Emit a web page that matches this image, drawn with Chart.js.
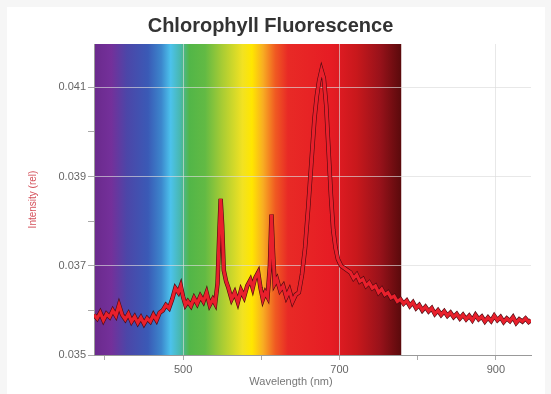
<!DOCTYPE html>
<html>
<head>
<meta charset="utf-8">
<script src="https://cdn.jsdelivr.net/npm/chart.js@4"></script>
<style>
  html, body { margin: 0; padding: 0; background: #fff; }
  canvas { display: block; }
</style>
</head>
<body>
<canvas id="chart" width="551" height="394"></canvas>
<script>
// wavelength (nm)
const wavelength = [
  386, 390, 394, 398, 402, 406, 410, 414, 418, 422, 426, 430, 434, 438, 442, 446, 450, 454, 458, 462,
  466, 470, 474, 478, 482, 486, 490, 494, 497, 500, 503, 506, 510, 514, 518, 522, 526, 530, 534, 538,
  541, 544, 546, 548, 550, 552, 555, 558, 562, 566, 570, 574, 578, 582, 586, 589, 592, 596, 599, 602,
  605, 608, 611, 613, 615, 617, 620, 624, 628, 632, 636, 640, 644, 648, 652, 656, 660, 664, 668, 671,
  674, 677, 680, 683, 686, 689, 692, 695, 698, 702, 706, 710, 714, 718, 722, 726, 730, 734, 738, 742,
  746, 750, 754, 758, 762, 766, 770, 774, 778, 782, 786, 790, 794, 798, 802, 806, 810, 814, 818, 822,
  826, 830, 834, 838, 842, 846, 850, 854, 858, 862, 866, 870, 874, 878, 882, 886, 890, 894, 898, 902,
  906, 910, 914, 918, 922, 926, 930, 934, 938, 942, 945
];

// relative intensity
const intensity = [
  0.03590, 0.03582, 0.03595, 0.03578, 0.03592, 0.03585, 0.03600, 0.03588, 0.03612, 0.03590,
  0.03580, 0.03592, 0.03575, 0.03586, 0.03572, 0.03584, 0.03570, 0.03582, 0.03575, 0.03590,
  0.03578, 0.03595, 0.03600, 0.03612, 0.03605, 0.03625, 0.03650, 0.03640, 0.03655, 0.03630,
  0.03612, 0.03620, 0.03610, 0.03628, 0.03615, 0.03632, 0.03620, 0.03640, 0.03612, 0.03625,
  0.03615, 0.03660, 0.03760, 0.03850, 0.03790, 0.03690, 0.03665, 0.03650, 0.03625, 0.03640,
  0.03618, 0.03645, 0.03630, 0.03655, 0.03668, 0.03650, 0.03672, 0.03685, 0.03650, 0.03625,
  0.03640, 0.03630, 0.03700, 0.03815, 0.03730, 0.03660, 0.03670, 0.03645, 0.03655, 0.03630,
  0.03645, 0.03620, 0.03635, 0.03640, 0.03680, 0.03740, 0.03830, 0.03930, 0.04030, 0.04080,
  0.04115, 0.04138, 0.04120, 0.04060, 0.03960, 0.03860, 0.03780, 0.03740, 0.03715, 0.03700,
  0.03695, 0.03690, 0.03685, 0.03672, 0.03680, 0.03665, 0.03670, 0.03655, 0.03662, 0.03650,
  0.03655, 0.03640, 0.03648, 0.03635, 0.03640, 0.03628, 0.03632, 0.03620, 0.03625, 0.03615,
  0.03622, 0.03610, 0.03618, 0.03605, 0.03612, 0.03600, 0.03608, 0.03598, 0.03605, 0.03592,
  0.03600, 0.03590, 0.03598, 0.03588, 0.03595, 0.03585, 0.03592, 0.03582, 0.03590, 0.03580,
  0.03588, 0.03578, 0.03590, 0.03580, 0.03586, 0.03575, 0.03584, 0.03576, 0.03588, 0.03578,
  0.03585, 0.03574, 0.03582, 0.03576, 0.03585, 0.03572, 0.03580, 0.03575, 0.03582, 0.03574,
  0.03578
];

// axis ticks
const xTicks = [400, 500, 600, 700, 800, 900];
const xLabels = [500, 700, 900];
const yTicks = [0.035, 0.036, 0.037, 0.038, 0.039, 0.040, 0.041];
const yLabels = [0.035, 0.037, 0.039, 0.041];

// visible spectrum behind the plot: [nm, colour]
const spectrumStops = [
  [386, '#6a2a8c'], [408, '#74309a'], [428, '#4c46a8'], [455, '#3a5ab6'],
  [472, '#3c86cc'], [484, '#4cc2ec'], [496, '#48b8b0'], [508, '#52b648'],
  [528, '#62ba44'], [550, '#a8cc34'], [576, '#f2e222'], [588, '#ffe600'],
  [602, '#f8ae22'], [618, '#f05a22'], [634, '#e82a26'], [690, '#e61c24'],
  [722, '#c8181c'], [752, '#98121a'], [779, '#5a0a0c']
];

const isLabel = (list, v) => list.some(l => Math.abs(l - v) < 1e-6);

const points = wavelength.map((w, i) => ({ x: w, y: intensity[i] }));

const backdrop = {
  id: 'backdrop',
  beforeDraw(chart) {
    const c = chart.ctx;
    c.save();
    c.fillStyle = '#f6f6f6';
    c.fillRect(0, 0, chart.width, chart.height);
    c.fillStyle = '#ffffff';
    c.fillRect(7, 7, chart.width - 13, chart.height - 7);

    const xs = chart.scales.x;
    const area = chart.chartArea;
    const x0 = xs.getPixelForValue(spectrumStops[0][0]);
    const x1 = xs.getPixelForValue(spectrumStops[spectrumStops.length - 1][0]);
    const grad = c.createLinearGradient(x0, 0, x1, 0);
    spectrumStops.forEach(s => {
      grad.addColorStop((xs.getPixelForValue(s[0]) - x0) / (x1 - x0), s[1]);
    });
    c.fillStyle = grad;
    c.fillRect(x0, area.top, x1 - x0, area.bottom - area.top);
    c.restore();
  },
  afterDraw(chart) {
    // x axis title sits left of the plot centre in the original
    const c = chart.ctx;
    c.save();
    c.font = '11px "Liberation Sans", Arial, sans-serif';
    c.fillStyle = '#777';
    c.textAlign = 'center';
    c.textBaseline = 'middle';
    c.fillText('Wavelength (nm)', 291, 382);
    c.restore();
  }
};

new Chart(document.getElementById('chart'), {
  type: 'line',
  data: {
    datasets: [
      {
        data: points,
        borderColor: '#e8202c',
        borderWidth: 3.2,
        pointRadius: 0,
        tension: 0
      },
      {
        data: points,
        borderColor: '#4a0a10',
        borderWidth: 4.4,
        pointRadius: 0,
        tension: 0
      }
    ]
  },
  options: {
    responsive: false,
    animation: false,
    devicePixelRatio: 1,
    layout: { padding: { left: 10, right: 20, top: 0, bottom: 0 } },
    plugins: {
      legend: { display: false },
      tooltip: { enabled: false },
      title: {
        display: true,
        text: 'Chlorophyll Fluorescence',
        color: '#333',
        font: { family: '"Liberation Sans", Arial, sans-serif', size: 20, weight: 'bold' },
        padding: { top: 14, bottom: 6 }
      }
    },
    scales: {
      x: {
        type: 'linear',
        min: 386,
        max: 945,
        afterBuildTicks: s => { s.ticks = xTicks.map(v => ({ value: v })); },
        afterFit: s => { s.height = 39; },
        border: { color: '#999' },
        grid: {
          color: ctx => isLabel(xLabels, ctx.tick.value) ? 'rgba(220,220,220,0.65)' : 'transparent',
          tickColor: '#aaa',
          tickLength: 5
        },
        ticks: {
          color: '#666',
          padding: 3,
          maxRotation: 0,
          font: { family: '"Liberation Sans", Arial, sans-serif', size: 11 },
          callback: v => isLabel(xLabels, v) ? String(v) : ''
        }
      },
      y: {
        min: 0.035,
        max: 0.04197,
        afterBuildTicks: s => { s.ticks = yTicks.map(v => ({ value: v })); },
        afterFit: s => { s.width = 84; },
        border: { color: '#999' },
        grid: {
          color: ctx => isLabel(yLabels, ctx.tick.value) ? 'rgba(220,220,220,0.65)' : 'transparent',
          tickColor: '#aaa',
          tickLength: 6
        },
        ticks: {
          color: '#666',
          padding: 2,
          font: { family: '"Liberation Sans", Arial, sans-serif', size: 11 },
          callback: v => isLabel(yLabels, v) ? v.toFixed(3) : ''
        },
        title: {
          display: true,
          text: 'Intensity (rel)',
          color: '#d4505a',
          padding: { top: 17, bottom: 0 },
          font: { family: '"Liberation Sans", Arial, sans-serif', size: 10 }
        }
      }
    }
  },
  plugins: [backdrop]
});
</script>
</body>
</html>
